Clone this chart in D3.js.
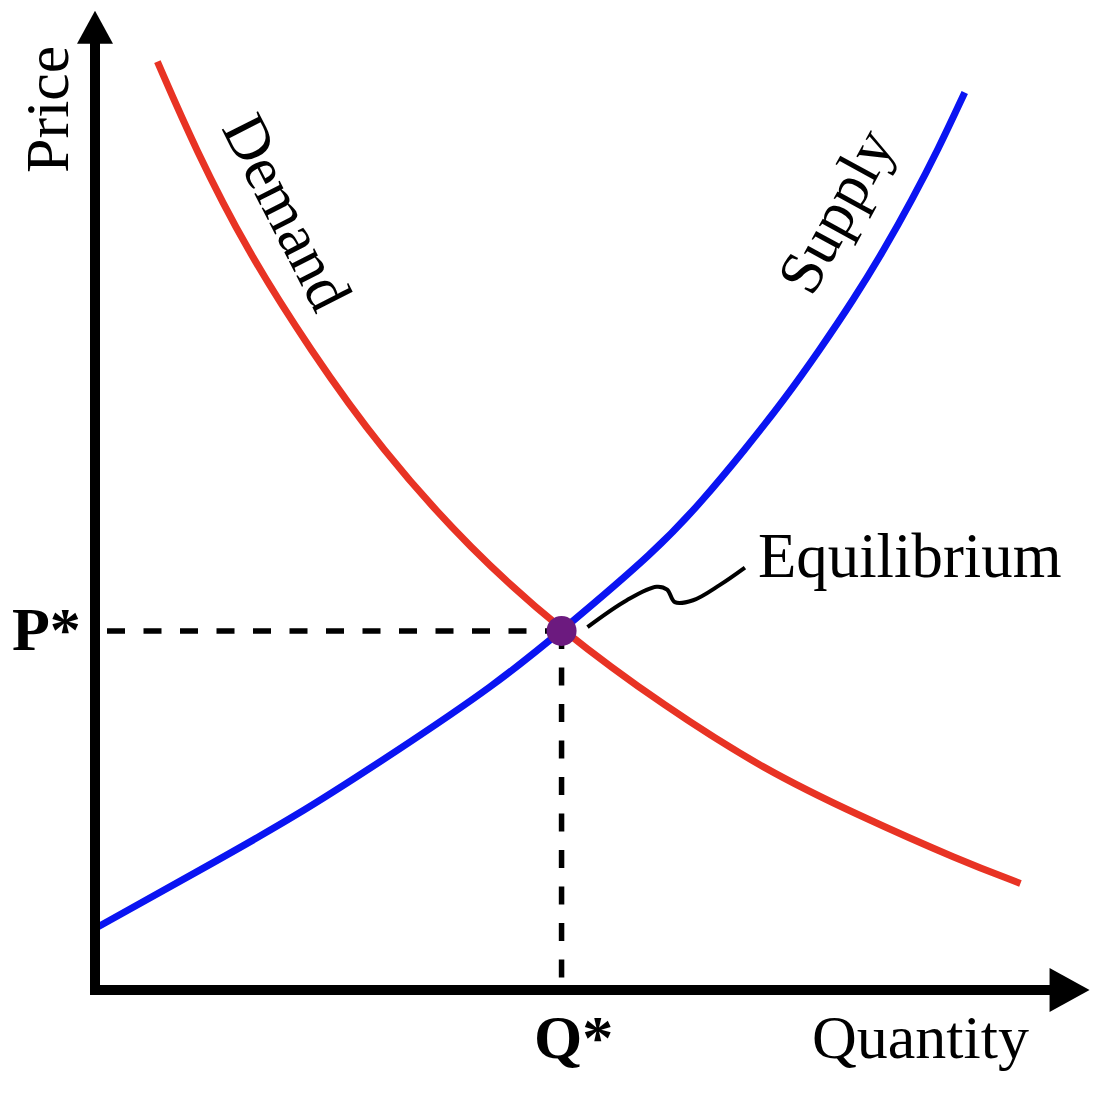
<!DOCTYPE html>
<html>
<head>
<meta charset="utf-8">
<script src="https://cdn.jsdelivr.net/npm/d3@7"></script>
<style>
  html, body { margin: 0; padding: 0; background: #fff; }
  svg { display: block; }
  text { font-family: "Liberation Serif", "Times New Roman", serif; fill: #000; }
</style>
</head>
<body>
<svg id="chart" width="1118" height="1106"></svg>
<script>
// ---- data (quantity, price) in abstract units 0..10 ----
const demandQ = [0.65, 1.05, 1.58, 2.24, 2.98, 3.92, 4.86, 5.94, 6.98, 7.95, 9.01, 9.64];
const demandP = [9.67, 8.75, 7.71, 6.67, 5.63, 4.58, 3.74, 2.95, 2.29, 1.82, 1.35, 1.11];
const supplyQ = [0.00, 1.04, 2.08, 3.13, 4.17, 4.86, 5.85, 6.33, 6.77, 7.18, 7.55, 7.90, 8.22, 8.51, 8.78, 9.06];
const supplyP = [0.64, 1.22, 1.80, 2.48, 3.18, 3.74, 4.58, 5.10, 5.63, 6.15, 6.67, 7.19, 7.71, 8.23, 8.75, 9.35];
const equilibriumQ = 4.86;
const equilibriumP = 3.74;
// leader line from the equilibrium point to its label
const leaderQ = [5.13, 5.54, 5.85, 5.96, 6.04, 6.23, 6.51, 6.77];
const leaderP = [3.78, 4.06, 4.20, 4.17, 4.04, 4.06, 4.22, 4.40];
const axisMaxQ = 10.36;
const axisMaxP = 10.2;
const labels = { price: "Price", quantity: "Quantity", demand: "Demand", supply: "Supply",
                 equilibrium: "Equilibrium", pStar: "P*", qStar: "Q*" };

// ---- scales ----
const x = d3.scaleLinear().domain([0, 10]).range([95, 1055]);
const y = d3.scaleLinear().domain([0, 10]).range([990, 30]);

const svg = d3.select("#chart");

const zip = (qs, ps) => qs.map((q, i) => [q, ps[i]]);
const smooth = d3.line().x(d => x(d[0])).y(d => y(d[1])).curve(d3.curveBasis);
const through = d3.line().x(d => x(d[0])).y(d => y(d[1])).curve(d3.curveCatmullRom.alpha(0.5));

// ---- dashed guide lines ----
svg.append("line")
  .attr("x1", x(0) + 12).attr("x2", x(equilibriumQ))
  .attr("y1", y(equilibriumP)).attr("y2", y(equilibriumP))
  .attr("stroke", "#000").attr("stroke-width", 5.5).attr("stroke-dasharray", "18,18.5");
svg.append("line")
  .attr("x1", x(equilibriumQ)).attr("x2", x(equilibriumQ))
  .attr("y1", y(equilibriumP)).attr("y2", y(0) - 5)
  .attr("stroke", "#000").attr("stroke-width", 5.5).attr("stroke-dasharray", "18,18.5");

// ---- curves ----
svg.append("path").datum(zip(demandQ, demandP))
  .attr("d", smooth).attr("fill", "none").attr("stroke", "#e83324").attr("stroke-width", 7);
svg.append("path").datum(zip(supplyQ, supplyP))
  .attr("d", smooth).attr("fill", "none").attr("stroke", "#0a14f2").attr("stroke-width", 7);

// ---- equilibrium point ----
svg.append("circle")
  .attr("cx", x(equilibriumQ)).attr("cy", y(equilibriumP)).attr("r", 15)
  .attr("fill", "#6c1a7f");

// ---- leader line ----
svg.append("path").datum(zip(leaderQ, leaderP))
  .attr("d", through).attr("fill", "none").attr("stroke", "#000").attr("stroke-width", 4);

// ---- axes with arrow heads ----
const x0 = x(0), y0 = y(0);
const yTip = y(axisMaxP), xTip = x(axisMaxQ);
svg.append("path")
  .attr("d", `M${x0},${yTip + 30} V${y0} H${xTip - 38}`)
  .attr("fill", "none").attr("stroke", "#000").attr("stroke-width", 10)
  .attr("stroke-linejoin", "miter").attr("stroke-linecap", "butt");
svg.append("path")
  .attr("d", `M${x0},${yTip} L${x0 + 18},${yTip + 33} L${x0 - 18},${yTip + 33} Z`)
  .attr("fill", "#000");
svg.append("path")
  .attr("d", `M${xTip},${y0} L${xTip - 40},${y0 - 22} L${xTip - 40},${y0 + 22} Z`)
  .attr("fill", "#000");

// ---- text ----
const fs = 62;
svg.append("text").text(labels.price)
  .attr("transform", `translate(${x0 - 27},173) rotate(-90)`)
  .attr("font-size", fs);
svg.append("text").text(labels.quantity)
  .attr("x", 812).attr("y", 1058).attr("font-size", fs);
svg.append("text").text(labels.pStar)
  .attr("x", 12).attr("y", 650).attr("font-size", fs).attr("font-weight", "bold");
svg.append("text").text(labels.qStar)
  .attr("x", 534).attr("y", 1058).attr("font-size", fs).attr("font-weight", "bold");
svg.append("text").text(labels.equilibrium)
  .attr("x", 758).attr("y", 577).attr("font-size", 62.8);
svg.append("text").text(labels.demand)
  .attr("transform", "translate(221,128) rotate(63)")
  .attr("font-size", fs);
svg.append("text").text(labels.supply)
  .attr("transform", "translate(812,298) rotate(-61.5)")
  .attr("font-size", fs);
</script>
</body>
</html>
